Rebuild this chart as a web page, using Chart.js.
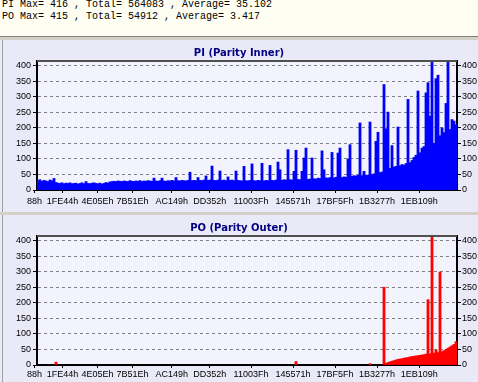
<!DOCTYPE html>
<html>
<head>
<meta charset="utf-8">
<script src="https://cdn.jsdelivr.net/npm/chart.js@4/dist/chart.umd.min.js"></script>
<style>
  html, body { margin:0; padding:0; background:#d4d0c8; }
  body { width:478px; height:382px; position:relative; overflow:hidden; }
  #hdr { position:absolute; left:0; top:0; width:478px; height:36px; background:#fefef2; border-bottom:1px solid #808080; }
  .ln { position:absolute; left:2px; font-family:"Liberation Mono", monospace; font-size:10px; line-height:12px; color:#000; white-space:pre; }
  canvas { position:absolute; left:0; }
  #c1 { top:40px; }
  #c2 { top:215px; }
</style>
</head>
<body>
<div id="hdr">
  <div class="ln" id="l1" style="top:-1px"></div>
  <div class="ln" id="l2" style="top:11px"></div>
</div>
<canvas id="c1" width="478" height="172"></canvas>
<canvas id="c2" width="478" height="167"></canvas>
<script>
// ---- summary lines ----
const piStats = { max: 416, total: 564083, average: "35.102" };
const poStats = { max: 415, total: 54912, average: "3.417" };

// ---- axis ticks ----
const yTickValues = [0, 50, 100, 150, 200, 250, 300, 350, 400];
const xTickLabels = ["88h","1FE44h","4E05Eh","7B51Eh","AC149h","DD352h","11003Fh","145571h","17BF5Fh","1B3277h","1EB109h"];
const xTickPos    = [-1.75, 12.3, 29.8, 47.3, 66.9, 85.9, 106.5, 127.5, 148.5, 169.5, 190.6];

// ---- PI (Parity Inner) per sample ----
const piValues = [
 30,33,28,31,29,27,32,30,37,
 24,22,21,23,20,22,21,23,20,21,22,19,21,23,20,27,21,20,22,23,21,20,22,19,21,24,22,
 26,27,28,27,29,28,27,29,28,27,30,28,27,29,28,30,27,29,28,30,29,28,38,29,28,30,38,29,28,30,
 29,31,29,40,30,29,31,30,29,31,57,30,31,30,40,31,30,32,45,31,32,77,31,30,32,61,31,32,30,42,
 31,32,30,61,31,30,
 29,76,30,29,31,84,30,29,31,30,86,29,31,30,79,31,30,32,90,65,31,33,32,130,33,32,60,128,34,33,
 60,103,135,34,35,103,36,35,
 38,37,126,65,39,38,40,121,39,41,119,135,40,42,41,100,146,
 44,46,45,47,216,46,60,48,47,219,50,
 52,157,186,56,58,
 340,197,251,70,143,74,76,
 203,78,82,80,85,292,88,
 95,105,112,319,120,
 135,140,313,346,238,416,150,359,370,175,
 200,185,279,416,195,227,222,210
];

// ---- PO (Parity Outer) per sample ----
const poValues = [
 0,0,0,0,0,0,0,0,0,9,0,0,0,0,0,0,0,0,0,0,
 0,0,0,0,0,0,0,0,0,0,0,0,0,0,0,0,0,0,0,0,
 0,0,0,0,0,0,0,0,0,0,0,0,0,0,0,0,0,0,0,0,
 0,0,0,0,0,0,0,0,0,0,0,0,0,0,0,0,0,0,0,0,
 0,0,0,0,0,0,0,0,0,0,0,0,0,0,0,0,0,0,0,0,
 0,0,0,0,0,0,0,0,0,0,0,0,0,0,0,0,0,0,0,0,
 0,0,0,0,0,0,0,0,0,11,0,0,0,0,0,0,0,0,0,0,
 0,0,0,0,0,0,0,0,0,0,0,0,0,0,0,0,0,0,0,0,
 0,0,0,0,0,0,4,0,0,0,0,0,0,250,5,8,10,12,14,16,
 18,19,20,22,23,24,26,27,28,29,30,31,32,33,35,210,36,415,38,48,
 40,299,43,46,50,54,58,62,66,75
];

document.getElementById('l1').textContent =
  "PI Max= " + piStats.max + " , Total= " + piStats.total + " , Average= " + piStats.average;
document.getElementById('l2').textContent =
  "PO Max= " + poStats.max + " , Total= " + poStats.total + " , Average= " + poStats.average;

const PANEL_BG = '#e9e9f8';
const PLOT_BG = '#f3f3fe';

const plotBg = {
  id: 'plotBg',
  beforeDraw(chart) {
    const { ctx, chartArea: a, width, height } = chart;
    ctx.save();
    ctx.fillStyle = PANEL_BG;
    ctx.fillRect(0, 0, width, height);
    ctx.fillStyle = '#a0a0a0';
    ctx.fillRect(2, 0, 1, height);
    ctx.fillStyle = PLOT_BG;
    ctx.fillRect(a.left, a.top, a.right - a.left, a.bottom - a.top);
    ctx.restore();
  },
  afterDraw(chart) {
    const { ctx, chartArea: a } = chart;
    ctx.save();
    ctx.strokeStyle = '#505050';
    ctx.lineWidth = 2;
    ctx.beginPath();
    ctx.moveTo(a.left, a.top);
    ctx.lineTo(a.right, a.top);
    ctx.stroke();
    ctx.restore();
  }
};

function makeChart(id, title, values, color, yMax, xAxisH, labelPad) {
  const pts = values.map((v, i) => ({ x: i, y: v }));
  const tickFont = { family: 'Liberation Sans', size: 9 };
  const yCommon = {
    min: 0, max: yMax,
    afterBuildTicks(s) { s.ticks = yTickValues.map(v => ({ value: v })); },
    ticks: { font: tickFont, color: '#000', padding: 2 },
    border: { display: true, color: '#000', width: 2, dash: [3, 3] },
  };
  return new Chart(document.getElementById(id), {
    type: 'bar',
    data: { datasets: [{ data: pts,
                         backgroundColor: c => (c.raw && c.raw.y > 0) ? color : 'rgba(0,0,0,0)',
                         inflateAmount: c => (c.raw && c.raw.y > 0) ? 0.4 : 0,
                         borderWidth: 0, barPercentage: 1, categoryPercentage: 1 }] },
    options: {
      animation: false, responsive: false, maintainAspectRatio: false,
      layout: { padding: 0 },
      plugins: {
        legend: { display: false }, tooltip: { enabled: false },
        title: { display: true, text: title, color: '#000080',
                 font: { family: 'DejaVu Sans', size: 10, weight: 'bold' },
                 padding: { top: 7, bottom: 2 } }
      },
      scales: {
        x: {
          type: 'linear', min: -0.5, max: values.length - 0.5, bounds: 'data', offset: false,
          afterBuildTicks(s) { s.ticks = xTickPos.map(v => ({ value: v })); },
          ticks: { autoSkip: false, maxRotation: 0, font: tickFont, color: '#000', padding: labelPad,
                   callback: (v, i) => xTickLabels[i] },
          grid: { display: true, drawOnChartArea: false, drawTicks: true, tickLength: 3, color: '#000', offset: false },
          border: { display: true, color: '#000', width: 2 },
          afterFit(s) { s.height = xAxisH; }
        },
        y: Object.assign({}, yCommon, {
          position: 'left',
          grid: { color: c => c.tick && c.tick.value === 0 ? 'rgba(0,0,0,0)' : '#808080',
                  tickColor: '#000', tickLength: 4 },
          afterFit(s) { s.width = 37; }
        }),
        y2: Object.assign({}, yCommon, {
          position: 'right',
          grid: { drawOnChartArea: false, tickColor: '#000', tickLength: 4 },
          ticks: { font: tickFont, color: '#000', padding: 1 },
          afterFit(s) { s.width = 21; }
        })
      }
    },
    plugins: [plotBg]
  });
}

makeChart('c1', 'PI (Parity Inner)', piValues, '#0000ff', piStats.max, 22, 3);
makeChart('c2', 'PO (Parity Outer)', poValues, '#ff0000', poStats.max, 17, 1);
</script>
</body>
</html>
